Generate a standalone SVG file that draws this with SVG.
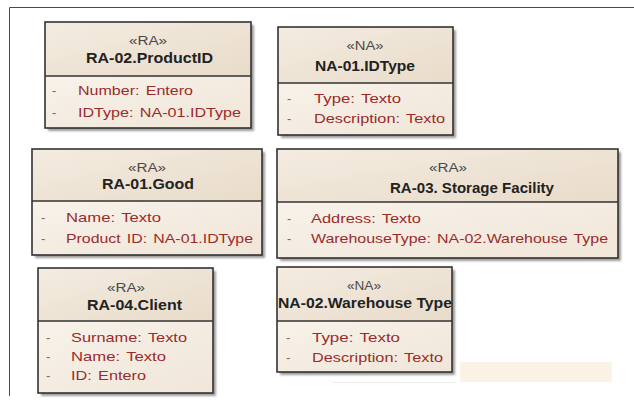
<svg xmlns="http://www.w3.org/2000/svg" width="634" height="402" viewBox="0 0 634 402">
  <style>
    .frame { stroke: #4a4a4a; stroke-width: 1; fill: none; }
    .shadow { fill: #9c9c9c; filter: url(#soft); }
    .head { fill: url(#headFill); }
    .body { fill: url(#bodyFill); }
    .edge { fill: none; stroke: #333; stroke-width: 1.6; }
    .divider { stroke: #333; stroke-width: 1.4; }
    .stereo { font-family: "Liberation Sans", Arial, sans-serif; font-size: 12px; fill: #4a4a4a; text-anchor: middle; }
    .title { font-family: "Liberation Sans", Arial, sans-serif; font-size: 14px; font-weight: bold; fill: #222; }
    .dash { font-family: "Liberation Sans", Arial, sans-serif; font-size: 13px; fill: #9a5a5a; }
    .attr { font-family: "Liberation Sans", Arial, sans-serif; font-size: 13.5px; fill: #9b2b2b; word-spacing: 1.5px; }
  </style>
  <defs>
    <linearGradient id="headFill" x1="0" y1="0" x2="1" y2="1">
      <stop offset="0" stop-color="#f4ece1"/>
      <stop offset="1" stop-color="#e8dbc9"/>
    </linearGradient>
    <linearGradient id="bodyFill" x1="0" y1="0" x2="1" y2="1">
      <stop offset="0" stop-color="#f8f2ea"/>
      <stop offset="1" stop-color="#f0e6d8"/>
    </linearGradient>
    <filter id="soft" x="-5%" y="-5%" width="110%" height="110%">
      <feGaussianBlur stdDeviation="0.8"/>
    </filter>
  </defs>

  <rect width="634" height="402" fill="#ffffff"/>

  <!-- diagram frame -->
  <path class="frame" d="M634 7.5 H9.5 V396"/>

  <!-- stray highlight strip below the warehouse class -->
  <rect x="460" y="362" width="152" height="20" fill="#fbf2e6"/>
  <line x1="332" y1="382.5" x2="455" y2="382.5" stroke="#ececec" stroke-width="1"/>

  <g id="connectors"/>

  <!-- RA-02.ProductID -->
  <g id="ra02-productid">
    <rect class="shadow" x="48" y="25" width="206" height="106"/>
    <rect class="head" x="45" y="22" width="206" height="54"/>
    <rect class="body" x="45" y="76" width="206" height="52"/>
    <rect class="edge" x="45" y="22" width="206" height="106"/>
    <line class="divider" x1="45" y1="76" x2="251" y2="76"/>
    <text class="stereo" x="148" y="45" textLength="38" lengthAdjust="spacingAndGlyphs">«RA»</text>
    <text class="title" x="86" y="63" textLength="127" lengthAdjust="spacingAndGlyphs">RA-02.ProductID</text>
    <text class="dash" x="52" y="95">-</text>
    <text class="dash" x="52" y="117">-</text>
    <text class="attr" x="78" y="95" textLength="115" lengthAdjust="spacingAndGlyphs">Number: Entero</text>
    <text class="attr" x="78" y="117" textLength="163" lengthAdjust="spacingAndGlyphs">IDType: NA-01.IDType</text>
  </g>

  <!-- NA-01.IDType -->
  <g id="na01-idtype">
    <rect class="shadow" x="281" y="30" width="175" height="108"/>
    <rect class="head" x="278" y="27" width="175" height="56"/>
    <rect class="body" x="278" y="83" width="175" height="52"/>
    <rect class="edge" x="278" y="27" width="175" height="108"/>
    <line class="divider" x1="278" y1="83" x2="453" y2="83"/>
    <text class="stereo" x="365" y="50" textLength="37" lengthAdjust="spacingAndGlyphs">«NA»</text>
    <text class="title" x="315" y="71" textLength="100" lengthAdjust="spacingAndGlyphs">NA-01.IDType</text>
    <text class="dash" x="287" y="103">-</text>
    <text class="dash" x="287" y="123">-</text>
    <text class="attr" x="314" y="103" textLength="87" lengthAdjust="spacingAndGlyphs">Type: Texto</text>
    <text class="attr" x="314" y="123" textLength="131" lengthAdjust="spacingAndGlyphs">Description: Texto</text>
  </g>

  <!-- RA-01.Good -->
  <g id="ra01-good">
    <rect class="shadow" x="35" y="152" width="230" height="106"/>
    <rect class="head" x="32" y="149" width="230" height="52"/>
    <rect class="body" x="32" y="201" width="230" height="54"/>
    <rect class="edge" x="32" y="149" width="230" height="106"/>
    <line class="divider" x1="32" y1="201" x2="262" y2="201"/>
    <text class="stereo" x="147" y="172" textLength="38" lengthAdjust="spacingAndGlyphs">«RA»</text>
    <text class="title" x="102" y="189" textLength="92" lengthAdjust="spacingAndGlyphs">RA-01.Good</text>
    <text class="dash" x="41" y="222">-</text>
    <text class="dash" x="41" y="243">-</text>
    <text class="attr" x="66" y="222" textLength="95" lengthAdjust="spacingAndGlyphs">Name: Texto</text>
    <text class="attr" x="66" y="243" textLength="187" lengthAdjust="spacingAndGlyphs">Product ID: NA-01.IDType</text>
  </g>

  <!-- RA-03.Storage Facility -->
  <g id="ra03-storage-facility">
    <rect class="shadow" x="280" y="152" width="341" height="109"/>
    <rect class="head" x="277" y="149" width="341" height="53"/>
    <rect class="body" x="277" y="202" width="341" height="56"/>
    <rect class="edge" x="277" y="149" width="341" height="109"/>
    <line class="divider" x1="277" y1="202" x2="618" y2="202"/>
    <text class="stereo" x="448" y="172" textLength="38" lengthAdjust="spacingAndGlyphs">«RA»</text>
    <text class="title" x="390" y="193" textLength="164" lengthAdjust="spacingAndGlyphs">RA-03. Storage Facility</text>
    <text class="dash" x="287" y="223">-</text>
    <text class="dash" x="287" y="243">-</text>
    <text class="attr" x="311" y="223" textLength="110" lengthAdjust="spacingAndGlyphs">Address: Texto</text>
    <text class="attr" x="311" y="243" textLength="297" lengthAdjust="spacingAndGlyphs">WarehouseType: NA-02.Warehouse Type</text>
  </g>

  <!-- RA-04.Client -->
  <g id="ra04-client">
    <rect class="shadow" x="41" y="271" width="175" height="125"/>
    <rect class="head" x="38" y="268" width="175" height="53"/>
    <rect class="body" x="38" y="321" width="175" height="72"/>
    <rect class="edge" x="38" y="268" width="175" height="125"/>
    <line class="divider" x1="38" y1="321" x2="213" y2="321"/>
    <text class="stereo" x="126" y="292" textLength="38" lengthAdjust="spacingAndGlyphs">«RA»</text>
    <text class="title" x="87" y="310" textLength="95" lengthAdjust="spacingAndGlyphs">RA-04.Client</text>
    <text class="dash" x="46" y="342">-</text>
    <text class="dash" x="46" y="361">-</text>
    <text class="dash" x="46" y="380">-</text>
    <text class="attr" x="71" y="342" textLength="116" lengthAdjust="spacingAndGlyphs">Surname: Texto</text>
    <text class="attr" x="71" y="361" textLength="95" lengthAdjust="spacingAndGlyphs">Name: Texto</text>
    <text class="attr" x="71" y="380" textLength="75" lengthAdjust="spacingAndGlyphs">ID: Entero</text>
  </g>

  <!-- NA-02.Warehouse Type -->
  <g id="na02-warehouse-type">
    <rect class="shadow" x="280" y="270" width="175" height="105"/>
    <rect class="head" x="277" y="267" width="175" height="54"/>
    <rect class="body" x="277" y="321" width="175" height="51"/>
    <rect class="edge" x="277" y="267" width="175" height="105"/>
    <line class="divider" x1="277" y1="321" x2="452" y2="321"/>
    <text class="stereo" x="364" y="290" textLength="34" lengthAdjust="spacingAndGlyphs" fill="#7a3a3a">«NA»</text>
    <text class="title" x="278" y="308" textLength="174" lengthAdjust="spacingAndGlyphs">NA-02.Warehouse Type</text>
    <text class="dash" x="286" y="342">-</text>
    <text class="dash" x="286" y="362">-</text>
    <text class="attr" x="312" y="342" textLength="88" lengthAdjust="spacingAndGlyphs">Type: Texto</text>
    <text class="attr" x="312" y="362" textLength="131" lengthAdjust="spacingAndGlyphs">Description: Texto</text>
  </g>
</svg>
